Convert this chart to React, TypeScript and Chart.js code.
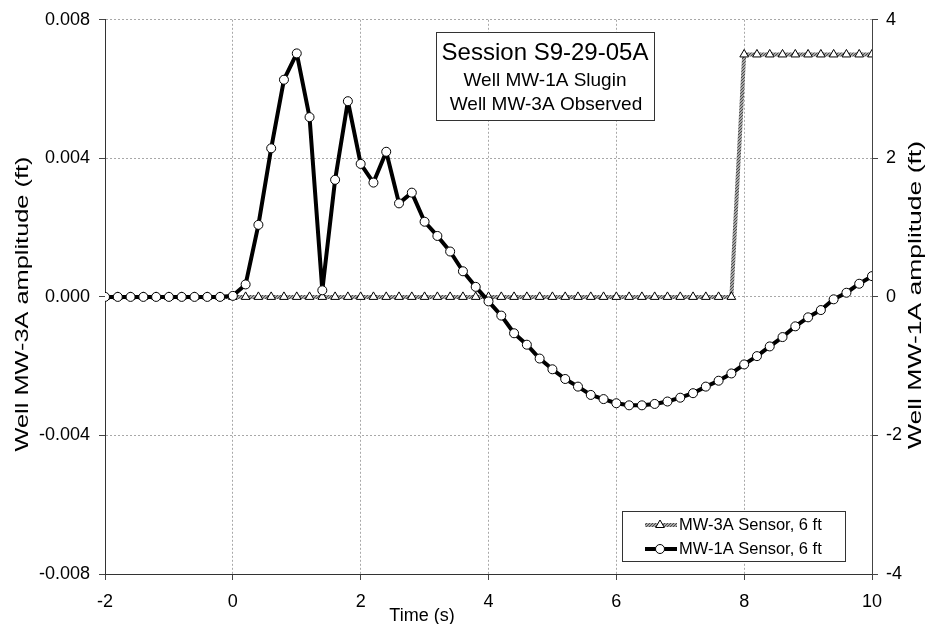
import React, { useEffect, useRef } from "react";
import { Chart, registerables } from "chart.js";

Chart.register(...registerables);

const FONT = '"Liberation Sans", Arial, Helvetica, sans-serif';

// Time (s)
const timeS = [
  -2, -1.8, -1.6, -1.4, -1.2, -1, -0.8, -0.6, -0.4, -0.2,
  0, 0.2, 0.4, 0.6, 0.8, 1, 1.2, 1.4, 1.6, 1.8,
  2, 2.2, 2.4, 2.6, 2.8, 3, 3.2, 3.4, 3.6, 3.8,
  4, 4.2, 4.4, 4.6, 4.8, 5, 5.2, 5.4, 5.6, 5.8,
  6, 6.2, 6.4, 6.6, 6.8, 7, 7.2, 7.4, 7.6, 7.8,
  8, 8.2, 8.4, 8.6, 8.8, 9, 9.2, 9.4, 9.6, 9.8,
  10,
];

// Circles series (left axis, ft)
const mw1aSensor = [
  0, 0, 0, 0, 0, 0, 0, 0, 0, 0,
  0.00003, 0.00036, 0.00208, 0.00429, 0.00627, 0.00703, 0.00519, 0.00019, 0.00338, 0.00565,
  0.00384, 0.0033, 0.00419, 0.0027, 0.00301, 0.00217, 0.00176, 0.00131, 0.00074, 0.00029,
  -0.00013, -0.00054, -0.00105, -0.00138, -0.00178, -0.00209, -0.00237, -0.00259, -0.00283, -0.00295,
  -0.00307, -0.00313, -0.00313, -0.00309, -0.00302, -0.00291, -0.00278, -0.00259, -0.00242, -0.00221,
  -0.00195, -0.00171, -0.00143, -0.00116, -0.00085, -0.00059, -0.00038, -0.00007, 0.00012, 0.00038,
  0.0006,
];

// Triangles series (right axis, ft)
const mw3aSensor = [
  0, 0, 0, 0, 0, 0, 0, 0, 0, 0,
  0, 0, 0, 0, 0, 0, 0, 0, 0, 0,
  0, 0, 0, 0, 0, 0, 0, 0, 0, 0,
  0, 0, 0, 0, 0, 0, 0, 0, 0, 0,
  0, 0, 0, 0, 0, 0, 0, 0, 0, 0,
  3.5, 3.5, 3.5, 3.5, 3.5, 3.5, 3.5, 3.5, 3.5, 3.5,
  3.5,
];

const xTicks = [-2, 0, 2, 4, 6, 8, 10];
const leftTicks = [-0.008, -0.004, 0, 0.004, 0.008];
const rightTicks = [-4, -2, 0, 2, 4];

const titleLines = ["Session S9-29-05A", "Well MW-1A Slugin", "Well MW-3A Observed"];
const legendLabels = ["MW-3A Sensor, 6 ft", "MW-1A Sensor, 6 ft"];
const leftAxisTitle = "Well MW-3A amplitude (ft)";
const rightAxisTitle = "Well MW-1A amplitude (ft)";
const xAxisTitle = "Time (s)";

function makePattern(): CanvasPattern | string {
  const pc = document.createElement("canvas");
  pc.width = 3;
  pc.height = 3;
  const p = pc.getContext("2d");
  if (!p) return "#888";
  p.fillStyle = "#a6a6a6";
  p.fillRect(0, 0, 3, 3);
  p.fillStyle = "#4a4a4a";
  p.fillRect(0, 2, 1, 1);
  p.fillRect(1, 1, 1, 1);
  p.fillRect(2, 0, 1, 1);
  const pat = p.createPattern(pc, "repeat");
  return pat || "#888";
}

export default function App() {
  const ref = useRef<HTMLCanvasElement | null>(null);

  useEffect(() => {
    const canvas = ref.current;
    if (!canvas) return;
    const pattern = makePattern();

    const overlay = {
      id: "overlay",
      afterDraw(chart: any) {
        const ctx: CanvasRenderingContext2D = chart.ctx;
        ctx.save();
        ctx.fillStyle = "#000";

        const drawStretched = (text: string, cx: number, cy: number, len: number) => {
          ctx.save();
          ctx.font = `18px ${FONT}`;
          const w = ctx.measureText(text).width;
          ctx.translate(cx, cy);
          ctx.rotate(-Math.PI / 2);
          ctx.scale(len / w, 1);
          ctx.textAlign = "center";
          ctx.textBaseline = "middle";
          ctx.fillStyle = "#000";
          ctx.fillText(text, 0, 0);
          ctx.restore();
        };
        drawStretched(leftAxisTitle, 23, 304, 295);
        drawStretched(rightAxisTitle, 916, 295, 308);

        // x axis title
        ctx.font = `18px ${FONT}`;
        ctx.textAlign = "center";
        ctx.textBaseline = "alphabetic";
        ctx.fillText(xAxisTitle, 422, 621);

        // title box
        ctx.fillStyle = "#fff";
        ctx.fillRect(436.5, 32.5, 218, 88);
        ctx.strokeStyle = "#333";
        ctx.lineWidth = 1;
        ctx.strokeRect(436.5, 32.5, 218, 88);
        ctx.fillStyle = "#000";
        ctx.textAlign = "center";
        ctx.textBaseline = "middle";
        ctx.font = `24px ${FONT}`;
        ctx.fillText(titleLines[0], 545, 53);
        ctx.font = `19px ${FONT}`;
        ctx.fillText(titleLines[1], 545, 81);
        ctx.fillText(titleLines[2], 546, 105);

        // legend box
        ctx.fillStyle = "#fff";
        ctx.fillRect(622.5, 511.5, 223, 50);
        ctx.strokeStyle = "#333";
        ctx.strokeRect(622.5, 511.5, 223, 50);

        // row 1: triangles
        ctx.strokeStyle = pattern as any;
        ctx.lineWidth = 4;
        ctx.beginPath();
        ctx.moveTo(645, 525);
        ctx.lineTo(677, 525);
        ctx.stroke();
        const r = 5;
        ctx.beginPath();
        ctx.moveTo(660, 525 - r);
        ctx.lineTo(660 + r * 0.866, 525 + r * 0.5);
        ctx.lineTo(660 - r * 0.866, 525 + r * 0.5);
        ctx.closePath();
        ctx.fillStyle = "#fff";
        ctx.fill();
        ctx.strokeStyle = "#000";
        ctx.lineWidth = 1;
        ctx.stroke();

        // row 2: circles
        ctx.strokeStyle = "#000";
        ctx.lineWidth = 4;
        ctx.beginPath();
        ctx.moveTo(645, 549);
        ctx.lineTo(677, 549);
        ctx.stroke();
        ctx.beginPath();
        ctx.arc(660, 549, 4.5, 0, Math.PI * 2);
        ctx.fillStyle = "#fff";
        ctx.fill();
        ctx.lineWidth = 1;
        ctx.stroke();

        ctx.fillStyle = "#000";
        ctx.font = `16.5px ${FONT}`;
        ctx.textAlign = "left";
        ctx.textBaseline = "middle";
        ctx.fillText(legendLabels[0], 679, 525);
        ctx.fillText(legendLabels[1], 679, 549);

        ctx.restore();
      },
    };

    const chart = new Chart(canvas, {
      type: "line",
      data: {
        datasets: [
          {
            label: legendLabels[1],
            data: timeS.map((t, i) => ({ x: t, y: mw1aSensor[i] })),
            yAxisID: "y",
            borderColor: "#000",
            borderWidth: 4,
            borderJoinStyle: "round",
            pointRadius: 4.5,
            pointBackgroundColor: "#fff",
            pointBorderColor: "#000",
            pointBorderWidth: 1,
            tension: 0,
            order: 0,
          },
          {
            label: legendLabels[0],
            data: timeS.map((t, i) => ({ x: t, y: mw3aSensor[i] })),
            yAxisID: "y1",
            borderColor: pattern as any,
            borderWidth: 4,
            borderJoinStyle: "round",
            pointStyle: "triangle",
            pointRadius: 5,
            pointBackgroundColor: "#fff",
            pointBorderColor: "#000",
            pointBorderWidth: 1,
            tension: 0,
            order: 1,
          },
        ],
      },
      options: {
        animation: false,
        responsive: false,
        devicePixelRatio: 1,
        layout: { padding: { top: 16, left: 0, right: 0, bottom: 0 } },
        plugins: {
          legend: { display: false },
          tooltip: { enabled: false },
          title: { display: false },
        },
        scales: {
          x: {
            type: "linear",
            position: "bottom",
            min: -2,
            max: 10,
            afterBuildTicks: (s: any) => {
              s.ticks = xTicks.map((v) => ({ value: v }));
            },
            afterFit: (s: any) => {
              s.height = 50;
            },
            ticks: {
              font: { family: FONT, size: 18 },
              color: "#000",
              padding: 11,
              maxRotation: 0,
              autoSkip: false,
              callback: (v: any) => String(v),
            },
            grid: {
              color: "#a8a8a8",
              lineWidth: 1,
              tickLength: 6,
              tickColor: "#444",
            },
            border: { display: true, color: "#333", width: 1, dash: [2, 2] },
          },
          y: {
            type: "linear",
            position: "left",
            min: -0.008,
            max: 0.008,
            afterBuildTicks: (s: any) => {
              s.ticks = leftTicks.map((v) => ({ value: v }));
            },
            afterFit: (s: any) => {
              s.width = 105;
            },
            ticks: {
              font: { family: FONT, size: 18 },
              color: "#000",
              padding: 9,
              callback: (v: any) => (Math.abs(Number(v)) < 1e-9 ? "0.000" : Number(v).toFixed(3)),
            },
            grid: {
              color: "#a8a8a8",
              lineWidth: 1,
              tickLength: 6,
              tickColor: "#444",
            },
            border: { display: true, color: "#333", width: 1, dash: [2, 2] },
          },
          y1: {
            type: "linear",
            position: "right",
            min: -4,
            max: 4,
            afterBuildTicks: (s: any) => {
              s.ticks = rightTicks.map((v) => ({ value: v }));
            },
            afterFit: (s: any) => {
              s.width = 58;
            },
            ticks: {
              font: { family: FONT, size: 18 },
              color: "#000",
              padding: 8,
              callback: (v: any) => String(v),
            },
            grid: {
              drawOnChartArea: false,
              tickLength: 6,
              tickColor: "#444",
            },
            border: { display: true, color: "#444", width: 1 },
          },
        },
      },
      plugins: [overlay],
    } as any);

    return () => chart.destroy();
  }, []);

  return (
    <div
      style={{
        position: "fixed",
        left: 0,
        top: 0,
        width: 930,
        height: 624,
        background: "#fff",
      }}
    >
      <canvas ref={ref} width={930} height={624} style={{ display: "block" }} />
    </div>
  );
}
